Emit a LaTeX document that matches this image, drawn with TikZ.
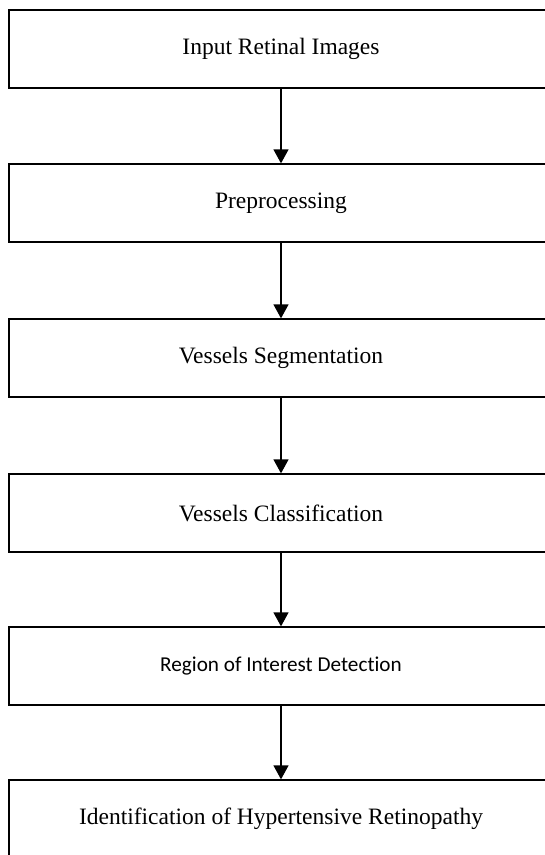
\documentclass[tikz,border=0pt]{standalone}
\usepackage{fontspec}
\setmainfont{Liberation Serif}
\newfontfamily\calibrifont[Ligatures=CommonOff]{Carlito}
\usetikzlibrary{arrows.meta}
\begin{document}
\begin{tikzpicture}[x=1pt,y=1pt,>={Triangle[width=15pt,length=14pt]},
  etape/.style={draw, line width=1.3pt, rectangle, minimum width=544pt, minimum height=78pt, inner sep=0pt, font=\fontsize{23.5}{28}\selectfont}]
\useasboundingbox (0,0) rectangle (545,-855);
\node(In)[etape] at (281,-49) {Input Retinal Images};
\node(Pre)[etape] at (281,-203) {Preprocessing};
\node(Seg)[etape] at (281,-358) {Vessels Segmentation};
\node(Cla)[etape] at (281,-513) {Vessels Classification};
\node(Roi)[etape, font=\calibrifont\fontsize{21.2}{26}\selectfont] at (281,-666) {Region of Interest Detection};
\node(Id)[etape] at (281,-819) {Identification of Hypertensive Retinopathy};

\draw[line width=1.3pt] (In.south) edge[->] (Pre.north);
\draw[line width=1.3pt] (Pre.south) edge[->] (Seg.north);
\draw[line width=1.3pt] (Seg.south) edge[->] (Cla.north);
\draw[line width=1.3pt] (Cla.south) edge[->] (Roi.north);
\draw[line width=1.3pt] (Roi.south) edge[->] (Id.north);
\end{tikzpicture}
\end{document}
